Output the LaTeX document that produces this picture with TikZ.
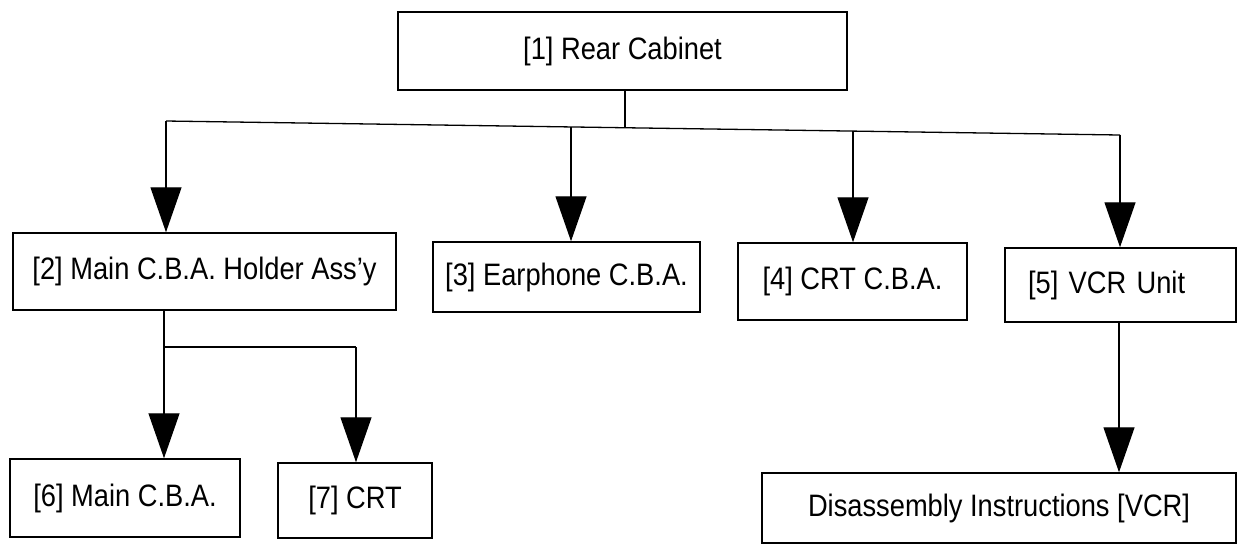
\documentclass[tikz,border=0pt]{standalone}
\usepackage{fontspec}
\setmainfont{Liberation Sans}[FakeStretch=0.88]
\usetikzlibrary{arrows.meta}
\begin{document}
\begin{tikzpicture}[x=0.5pt,y=-0.5pt,
  box/.style={draw, line width=0.75pt, rectangle, inner sep=0pt, font=\fontsize{15.5pt}{18pt}\selectfont},
  conn/.style={line width=0.65pt},
  arr/.style={line width=0.65pt, -{Triangle[length=22.5pt,width=15.5pt]}}]
\useasboundingbox (0,0) rectangle (1240,548);
% boxes
\node[box, minimum width=224.5pt, minimum height=39pt] (r1) at (622.5,51) {[1] Rear Cabinet};
\node[box, minimum width=191.5pt, minimum height=38.5pt] (r2) at (204.5,271.5) {[2] Main C.B.A. Holder Ass’y};
\node[box, minimum width=133.5pt, minimum height=35pt] (r3) at (566.5,277) {[3] Earphone C.B.A.};
\node[box, minimum width=114.5pt, minimum height=38.5pt] (r4) at (852.5,281.5) {[4] CRT C.B.A.};
\node[box, minimum width=115.5pt, minimum height=37pt, text width=92.5pt, inner xsep=11.5pt, align=left] (r5) at (1120.5,285) {[5] VCR Unit};
\node[box, minimum width=115pt, minimum height=39pt] (r6) at (125,498) {[6] Main C.B.A.};
\node[box, minimum width=77pt, minimum height=37.5pt] (r7) at (355,500.5) {[7] CRT};
\node[box, minimum width=237pt, minimum height=35pt] (r8) at (999,508) {Disassembly Instructions [VCR]};
% bus coordinates
\coordinate (t1) at (625,128);
\coordinate (b2) at (166,121);
\coordinate (b3) at (571,127);
\coordinate (b4) at (853,131);
\coordinate (b5) at (1120,135);
\coordinate (c6) at (164,347);
\coordinate (c7) at (356,347);
\coordinate (d5) at (1119,322);
% connectors
\draw[conn] (r1.south -| t1) -- (t1);
\draw[conn] (b2) -- (b5);
\draw[arr] (b2) -- (b2 |- r2.north);
\draw[arr] (b3) -- (b3 |- r3.north);
\draw[arr] (b4) -- (b4 |- r4.north);
\draw[arr] (b5) -- (b5 |- r5.north);
\draw[conn] (c6 |- r2.south) -- (c6) -- (c7);
\draw[arr] (c6) -- (c6 |- r6.north);
\draw[arr] (c7) -- (c7 |- r7.north);
\draw[arr] (d5 |- r5.south) -- (d5 |- r8.north);
\end{tikzpicture}
\end{document}
